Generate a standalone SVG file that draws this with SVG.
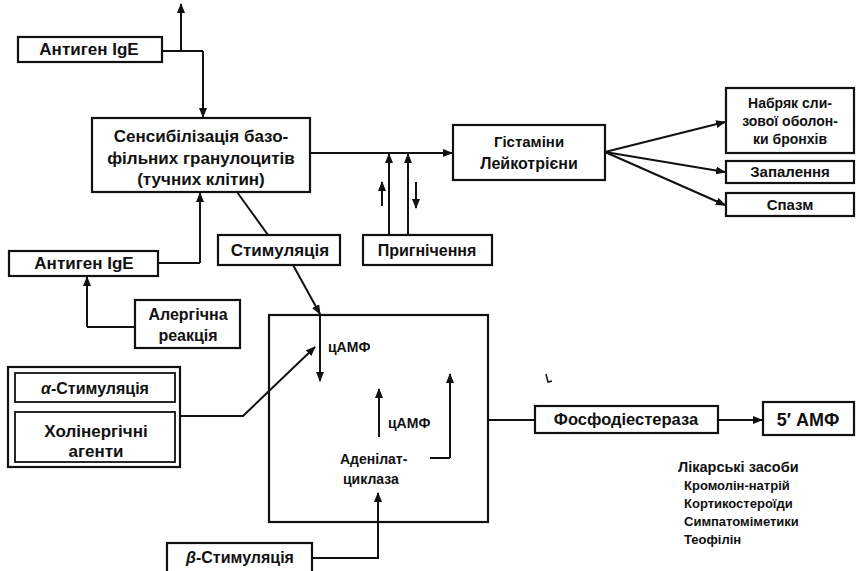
<svg xmlns="http://www.w3.org/2000/svg" width="860" height="571" viewBox="0 0 860 571">
<defs>
<marker id="ah" markerWidth="10" markerHeight="8" refX="9" refY="4" orient="auto" markerUnits="userSpaceOnUse">
<path d="M0,0 L10,4 L0,8 Z" fill="#111"/>
</marker>
</defs>
<style>
rect{fill:#fff;stroke:#111;stroke-width:2.2}
text{font-family:"Liberation Sans",Arial,sans-serif;font-size:16px;font-weight:bold;fill:#111}
.c{text-anchor:middle}
.l{fill:none;stroke:#111;stroke-width:2}
.a{fill:none;stroke:#111;stroke-width:2;marker-end:url(#ah)}
</style>
<rect x="0" y="0" width="860" height="571" style="fill:#fff;stroke:none"/>
<g id="connectors">
<path class="l" d="M162,51 H203"/>
<path class="a" d="M181,51 V4"/>
<path class="a" d="M203,51 V117"/>
<path class="a" d="M310,153 H452"/>
<path class="a" d="M605,152 L725,122"/>
<path class="a" d="M605,152 L725,172"/>
<path class="a" d="M605,152 L725,205"/>
<path class="a" d="M389,237 V154"/>
<path class="a" d="M408,237 V154"/>
<path class="a" d="M382,206 V182"/>
<path class="a" d="M416,182 V208"/>
<path class="l" d="M237,192 L268,235"/>
<path class="a" d="M293,265 L320,314"/>
<path class="a" d="M320,315 V381"/>
<path class="l" d="M158,263 H200"/>
<path class="a" d="M200,263 V193"/>
<path class="l" d="M135,327 H87"/>
<path class="a" d="M87,327 V277"/>
<path class="a" d="M175,416 H243 L315,347"/>
<path class="a" d="M379,437 V389"/>
<path class="l" d="M430,458 H450"/>
<path class="a" d="M450,458 V374"/>
<path class="a" d="M312,558 H378 V493"/>
<path class="l" d="M488,420 H535"/>
<path class="a" d="M718,420 H762"/>
<path class="l" d="M546,374 L548,382 L552,381" style="stroke-width:1.5"/>
</g>
<g id="antigen-top">
<rect x="18" y="37" width="144" height="25"/>
<text class="c" x="89" y="55" style="font-size:17px">Антиген IgE</text>
</g>
<g id="sensibilization">
<rect x="92" y="118" width="218" height="74"/>
<text class="c" x="201" y="142" style="font-size:17px">Сенсибілізація базо-</text>
<text class="c" x="201" y="164" style="font-size:17px">фільних гранулоцитів</text>
<text class="c" x="201" y="185" style="font-size:17px">(тучних клітин)</text>
</g>
<g id="histamine">
<rect x="453" y="125" width="152" height="55"/>
<text class="c" x="529" y="147" style="font-size:15px">Гістаміни</text>
<text class="c" x="529" y="169">Лейкотрієни</text>
</g>
<g id="edema">
<rect x="726" y="88" width="128" height="65"/>
<text class="c" x="790" y="108" style="font-size:14px">Набряк сли-</text>
<text class="c" x="790" y="126" style="font-size:14px">зової оболон-</text>
<text class="c" x="790" y="144" style="font-size:14px">ки бронхів</text>
</g>
<g id="inflammation">
<rect x="726" y="161" width="128" height="22"/>
<text class="c" x="790" y="177" style="font-size:15px">Запалення</text>
</g>
<g id="spasm">
<rect x="726" y="193" width="128" height="23"/>
<text class="c" x="790" y="210" style="font-size:15px">Спазм</text>
</g>
<g id="stimulation">
<rect x="218" y="235" width="122" height="30"/>
<text class="c" x="280" y="256" style="font-size:17px">Стимуляція</text>
</g>
<g id="inhibition">
<rect x="363" y="235" width="129" height="30"/>
<text class="c" x="427" y="256">Пригнічення</text>
</g>
<g id="antigen-low">
<rect x="9" y="251" width="149" height="25"/>
<text class="c" x="84" y="269" style="font-size:17px">Антиген IgE</text>
</g>
<g id="allergic">
<rect x="135" y="300" width="105" height="48"/>
<text class="c" x="188" y="320">Алергічна</text>
<text class="c" x="188" y="341">реакція</text>
</g>
<g id="camp-box">
<rect x="269" y="315" width="219" height="207" style="fill:none"/>
<text x="328" y="352" style="font-size:14px">цАМФ</text>
<text x="388" y="428" style="font-size:14px">цАМФ</text>
<text x="340" y="464" style="font-size:14px">Аденілат-</text>
<text x="343" y="484" style="font-size:14px">циклаза</text>
</g>
<g id="alpha-cholin">
<rect x="8" y="367" width="172" height="100"/>
<rect x="15" y="373" width="160" height="29" style="stroke-width:1.8"/>
<text class="c" x="95" y="394" style="font-size:16px"><tspan font-style="italic">α</tspan>-Стимуляція</text>
<rect x="15" y="412" width="160" height="50" style="stroke-width:1.8"/>
<text class="c" x="96" y="437" style="font-size:17px">Холінергічні</text>
<text class="c" x="96" y="457" style="font-size:17px">агенти</text>
</g>
<g id="beta">
<rect x="167" y="543" width="145" height="34"/>
<text class="c" x="240" y="563" style="font-size:16px"><tspan font-style="italic">β</tspan>-Стимуляція</text>
</g>
<g id="pde">
<rect x="535" y="406" width="183" height="27"/>
<text class="c" x="626" y="425" style="font-size:16.5px">Фосфодіестераза</text>
</g>
<g id="amp5">
<rect x="763" y="402" width="91" height="33"/>
<text class="c" x="808" y="426" style="font-size:18px">5′ АМФ</text>
</g>
<g id="drugs">
<text x="678" y="472" style="font-size:14.5px">Лікарські засоби</text>
<text x="684" y="490" style="font-size:13px">Кромолін-натрій</text>
<text x="684" y="508" style="font-size:13px">Кортикостероїди</text>
<text x="684" y="526" style="font-size:13px">Симпатоміметики</text>
<text x="684" y="544" style="font-size:13px">Теофілін</text>
</g>
</svg>
